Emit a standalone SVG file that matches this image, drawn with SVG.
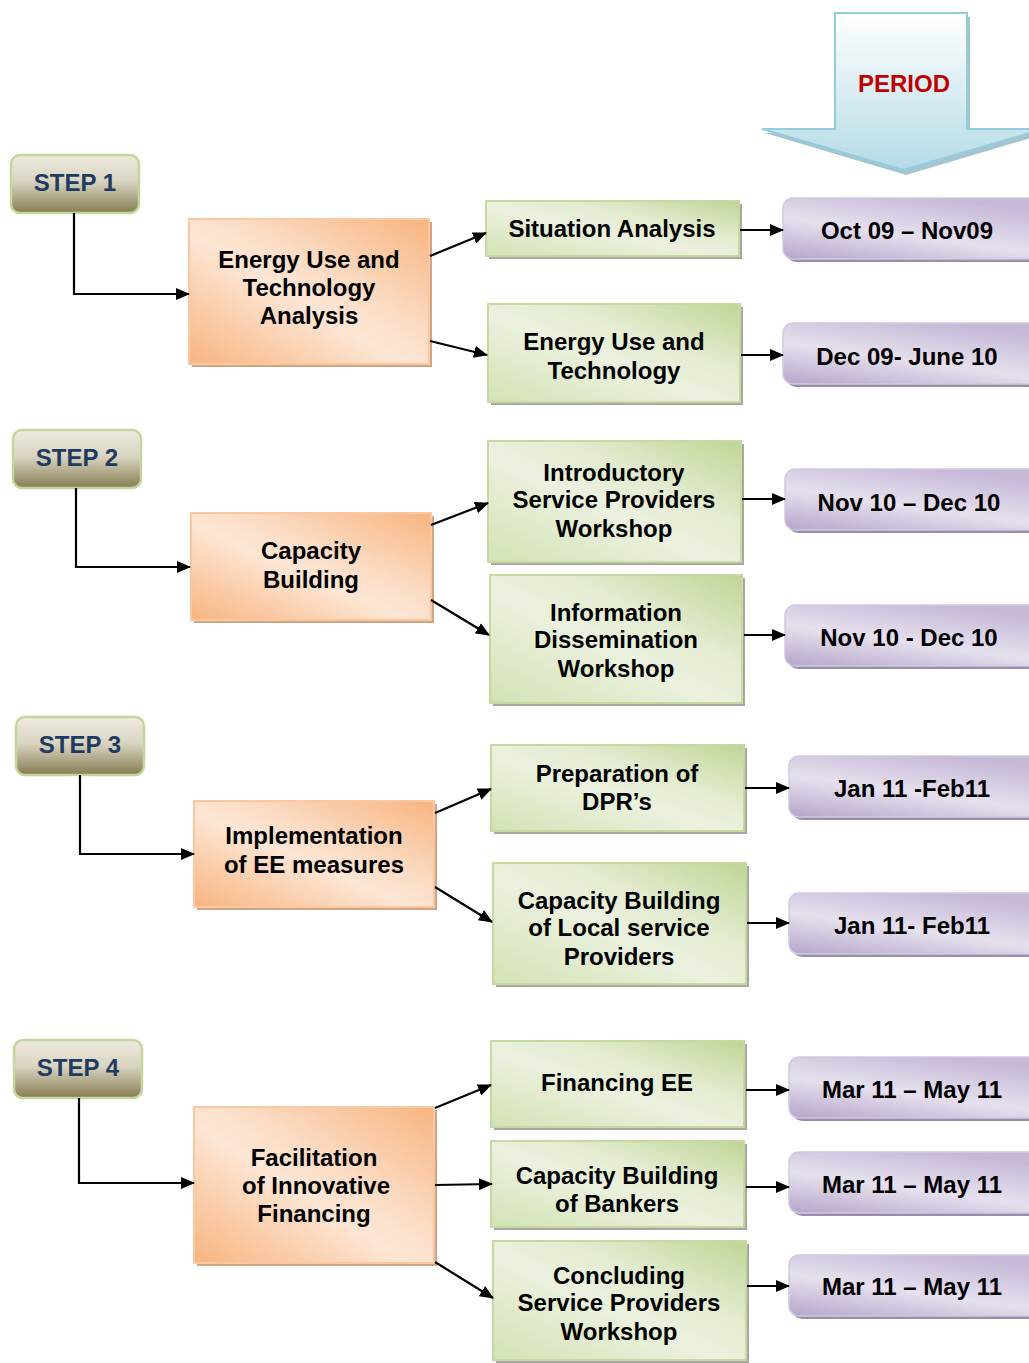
<svg xmlns="http://www.w3.org/2000/svg" width="1029" height="1363" viewBox="0 0 1029 1363">
<defs>
<linearGradient id="gStep" x1="0" y1="0" x2="0" y2="1">
<stop offset="0" stop-color="#eeebdf"/><stop offset="0.45" stop-color="#d9d5c2"/><stop offset="1" stop-color="#867c52"/>
</linearGradient>
<linearGradient id="gOr" x1="0" y1="1" x2="1" y2="0">
<stop offset="0" stop-color="#f7b47f"/><stop offset="0.45" stop-color="#fde6d5"/><stop offset="0.6" stop-color="#fbdcc4"/><stop offset="1" stop-color="#f7b47f"/>
</linearGradient>
<linearGradient id="gGr" x1="0" y1="1" x2="1" y2="0">
<stop offset="0" stop-color="#d3e2b4"/><stop offset="0.45" stop-color="#ebf1de"/><stop offset="0.65" stop-color="#e3ecd0"/><stop offset="1" stop-color="#c0d495"/>
</linearGradient>
<linearGradient id="gPu" x1="0" y1="1" x2="0.6" y2="0">
<stop offset="0" stop-color="#b5a5ca"/><stop offset="0.5" stop-color="#e6e0ee"/><stop offset="1" stop-color="#c6b9d8"/>
</linearGradient>
<linearGradient id="gPer" x1="0" y1="0" x2="0" y2="1">
<stop offset="0" stop-color="#ffffff"/><stop offset="1" stop-color="#b4dbe6"/>
</linearGradient>
<marker id="ah" markerWidth="14" markerHeight="12" refX="13" refY="6" orient="auto" markerUnits="userSpaceOnUse">
<path d="M0,0 L14,6 L0,12 Z" fill="#000"/>
</marker>
</defs>
<style>
text{font-family:"Liberation Sans",Arial,sans-serif;font-weight:bold;font-size:24px;text-anchor:middle;fill:#000}
.st{fill:url(#gStep);stroke:#c3d69b;stroke-width:2.5}
.stt{fill:#1f3b60}
.or{fill:url(#gOr);stroke:#fac7a0;stroke-width:2}
.ors{fill:#d0a584}
.gr{fill:url(#gGr);stroke:#c6d9a0;stroke-width:2}
.grs{fill:#a8a8a0}
.pu{fill:url(#gPu);stroke:#d2c8e0;stroke-width:1.5}
.pus{fill:#9a8cab}
.cn{fill:none;stroke:#000;stroke-width:2.2;marker-end:url(#ah)}
</style>
<rect width="1029" height="1363" fill="#fff"/>

<g id="period">
<path d="M838,17 H970 V133 H1048 L906,175 L765,133 H838 Z" fill="#8fb6c2" opacity="0.8"/>
<path d="M835,13 H967 V129 H1044 L903,170 L762,129 H835 Z" fill="url(#gPer)" stroke="#93cddd" stroke-width="2"/>
<text x="904" y="92" style="fill:#c00000">PERIOD</text>
</g>

<g id="step1"><rect class="st" x="11" y="155" width="128" height="58" rx="9"/><text class="stt" x="75" y="191">STEP 1</text></g>
<g id="step2"><rect class="st" x="13" y="430" width="128" height="58" rx="9"/><text class="stt" x="77" y="466">STEP 2</text></g>
<g id="step3"><rect class="st" x="16" y="717" width="128" height="58" rx="9"/><text class="stt" x="80" y="753">STEP 3</text></g>
<g id="step4"><rect class="st" x="14" y="1040" width="128" height="58" rx="9"/><text class="stt" x="78" y="1076">STEP 4</text></g>

<g id="o1"><rect class="ors" x="192" y="222" width="240" height="145"/><rect class="or" x="189" y="219" width="240" height="145"/>
<text x="309" y="268">Energy Use and</text><text x="309" y="296">Technology</text><text x="309" y="324">Analysis</text></g>
<g id="o2"><rect class="ors" x="194" y="516" width="240" height="107"/><rect class="or" x="191" y="513" width="240" height="107"/>
<text x="311" y="559">Capacity</text><text x="311" y="588">Building</text></g>
<g id="o3"><rect class="ors" x="197" y="804" width="240" height="106"/><rect class="or" x="194" y="801" width="240" height="106"/>
<text x="314" y="844">Implementation</text><text x="314" y="873">of EE measures</text></g>
<g id="o4"><rect class="ors" x="197" y="1110" width="240" height="156"/><rect class="or" x="194" y="1107" width="240" height="156"/>
<text x="314" y="1166">Facilitation</text><text x="316" y="1194">of Innovative</text><text x="314" y="1222">Financing</text></g>

<g id="g1"><rect class="grs" x="489" y="204" width="253" height="55"/><rect class="gr" x="486" y="201" width="253" height="55"/><text x="612" y="237">Situation Analysis</text></g>
<g id="g2"><rect class="grs" x="491" y="307" width="252" height="98"/><rect class="gr" x="488" y="304" width="252" height="98"/><text x="614" y="350">Energy Use and</text><text x="614" y="379">Technology</text></g>
<g id="g3"><rect class="grs" x="491" y="444" width="253" height="121"/><rect class="gr" x="488" y="441" width="253" height="121"/><text x="614" y="481">Introductory</text><text x="614" y="508">Service Providers</text><text x="614" y="537">Workshop</text></g>
<g id="g4"><rect class="grs" x="493" y="578" width="252" height="128"/><rect class="gr" x="490" y="575" width="252" height="128"/><text x="616" y="621">Information</text><text x="616" y="648">Dissemination</text><text x="616" y="677">Workshop</text></g>
<g id="g5"><rect class="grs" x="494" y="748" width="253" height="86"/><rect class="gr" x="491" y="745" width="253" height="86"/><text x="617" y="782">Preparation of</text><text x="617" y="810">DPR’s</text></g>
<g id="g6"><rect class="grs" x="496" y="866" width="253" height="121"/><rect class="gr" x="493" y="863" width="253" height="121"/><text x="619" y="909">Capacity Building</text><text x="619" y="936">of Local service</text><text x="619" y="965">Providers</text></g>
<g id="g7"><rect class="grs" x="494" y="1044" width="253" height="86"/><rect class="gr" x="491" y="1041" width="253" height="86"/><text x="617" y="1091">Financing EE</text></g>
<g id="g8"><rect class="grs" x="494" y="1144" width="253" height="86"/><rect class="gr" x="491" y="1141" width="253" height="86"/><text x="617" y="1184">Capacity Building</text><text x="617" y="1212">of Bankers</text></g>
<g id="g9"><rect class="grs" x="496" y="1244" width="253" height="119"/><rect class="gr" x="493" y="1241" width="253" height="119"/><text x="619" y="1284">Concluding</text><text x="619" y="1311">Service Providers</text><text x="619" y="1340">Workshop</text></g>

<g id="p1"><rect class="pus" x="786" y="201" width="260" height="61" rx="10"/><rect class="pu" x="783" y="198" width="260" height="61" rx="10"/><text x="907" y="239">Oct 09 – Nov09</text></g>
<g id="p2"><rect class="pus" x="786" y="326" width="260" height="61" rx="10"/><rect class="pu" x="783" y="323" width="260" height="61" rx="10"/><text x="907" y="365">Dec 09- June 10</text></g>
<g id="p3"><rect class="pus" x="788" y="472" width="260" height="61" rx="10"/><rect class="pu" x="785" y="469" width="260" height="61" rx="10"/><text x="909" y="511">Nov 10 – Dec 10</text></g>
<g id="p4"><rect class="pus" x="788" y="608" width="260" height="61" rx="10"/><rect class="pu" x="785" y="605" width="260" height="61" rx="10"/><text x="909" y="646">Nov 10 - Dec 10</text></g>
<g id="p5"><rect class="pus" x="792" y="759" width="260" height="61" rx="10"/><rect class="pu" x="789" y="756" width="260" height="61" rx="10"/><text x="912" y="797">Jan 11 -Feb11</text></g>
<g id="p6"><rect class="pus" x="792" y="896" width="260" height="61" rx="10"/><rect class="pu" x="789" y="893" width="260" height="61" rx="10"/><text x="912" y="934">Jan 11- Feb11</text></g>
<g id="p7"><rect class="pus" x="792" y="1060" width="260" height="61" rx="10"/><rect class="pu" x="789" y="1057" width="260" height="61" rx="10"/><text x="912" y="1098">Mar 11 – May 11</text></g>
<g id="p8"><rect class="pus" x="792" y="1155" width="260" height="61" rx="10"/><rect class="pu" x="789" y="1152" width="260" height="61" rx="10"/><text x="912" y="1193">Mar 11 – May 11</text></g>
<g id="p9"><rect class="pus" x="792" y="1258" width="260" height="61" rx="10"/><rect class="pu" x="789" y="1255" width="260" height="61" rx="10"/><text x="912" y="1295">Mar 11 – May 11</text></g>

<g id="connectors">
<path class="cn" d="M74,213 V294 H189"/>
<path class="cn" d="M76,488 V567 H190"/>
<path class="cn" d="M80,775 V854 H194"/>
<path class="cn" d="M79,1098 V1183 H194"/>
<path class="cn" d="M430,256 L486,233"/>
<path class="cn" d="M430,341 L487,355"/>
<path class="cn" d="M740,230 H783"/>
<path class="cn" d="M741,355 H783"/>
<path class="cn" d="M431,525 L488,503"/>
<path class="cn" d="M431,600 L489,635"/>
<path class="cn" d="M742,499 H785"/>
<path class="cn" d="M744,635 H785"/>
<path class="cn" d="M435,813 L491,789"/>
<path class="cn" d="M435,887 L492,922"/>
<path class="cn" d="M745,788 H789"/>
<path class="cn" d="M747,923 H789"/>
<path class="cn" d="M435,1108 L491,1085"/>
<path class="cn" d="M435,1185 L492,1184"/>
<path class="cn" d="M435,1262 L493,1298"/>
<path class="cn" d="M746,1090 H789"/>
<path class="cn" d="M746,1187 H789"/>
<path class="cn" d="M747,1286 H789"/>
</g>
</svg>
